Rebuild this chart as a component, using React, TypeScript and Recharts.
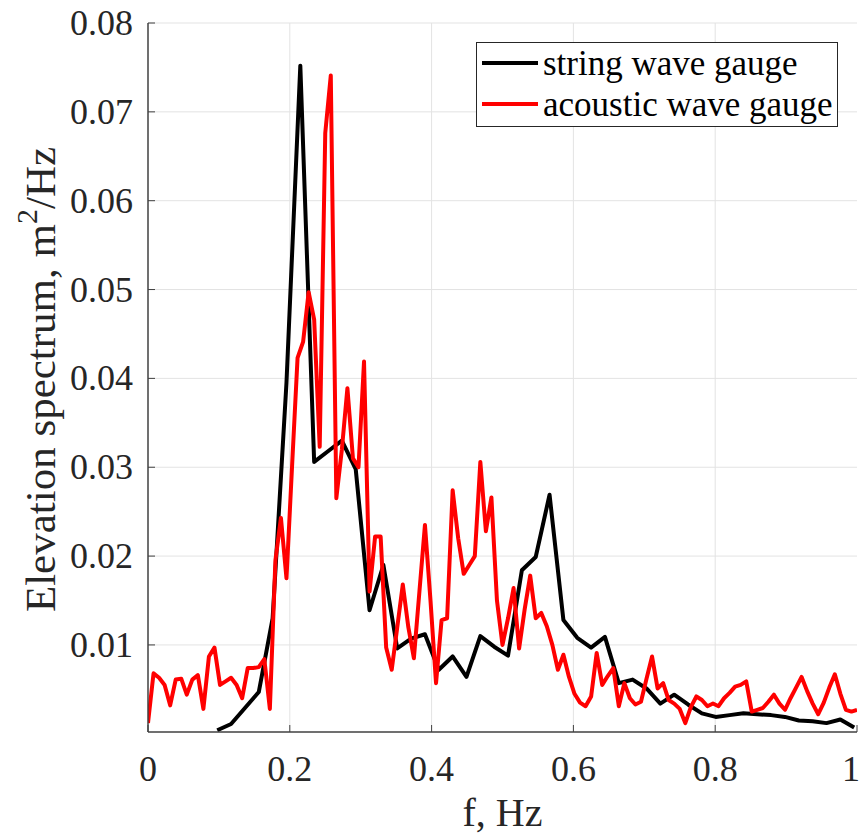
import React from "react";
import { LineChart, Line, XAxis, YAxis, CartesianGrid } from "recharts";

const FONT = '"Liberation Serif", "Times New Roman", serif';
const TEXT = "#262626";
const AXIS = "#404040";

const X_TICKS = [0, 0.2, 0.4, 0.6, 0.8, 1];
const X_TICK_LABELS = ["0", "0.2", "0.4", "0.6", "0.8", "1"];
const Y_TICKS = [0.01, 0.02, 0.03, 0.04, 0.05, 0.06, 0.07, 0.08];

// string gauge: sampled every 0.01953 Hz starting at bin 5
const STRING_DF = 0.01953;
const STRING_FIRST_BIN = 5;
const stringValues = [
  0.0004, 0.0011, 0.0029, 0.0047, 0.013, 0.0395, 0.0752, 0.0306, 0.0318,
  0.033, 0.0298, 0.0139, 0.019, 0.0096, 0.0107, 0.0112, 0.0072, 0.0087,
  0.0064, 0.011, 0.0098, 0.0088, 0.0184, 0.0199, 0.0269, 0.0128, 0.0108,
  0.0097, 0.0109, 0.0057, 0.0061, 0.0051, 0.0034, 0.0044, 0.0033, 0.0023,
  0.0019, 0.0021, 0.0023, 0.0022, 0.0021, 0.0019, 0.0015, 0.0014, 0.0012,
  0.0016, 0.0007,
];

// acoustic gauge: sampled every 1/128 Hz from 0 to 1
const ACOUSTIC_DF = 1 / 128;
const acousticValues = [
  0.0012, 0.0068, 0.0063, 0.0055, 0.0032, 0.0061, 0.0062, 0.0044, 0.0061,
  0.0066, 0.0028, 0.0087, 0.0097, 0.0055, 0.0059, 0.0063, 0.0055, 0.004,
  0.0074, 0.0074, 0.0075, 0.0084, 0.0028, 0.0195, 0.0243, 0.0175, 0.03,
  0.0423, 0.0441, 0.0497, 0.0466, 0.0323, 0.0676, 0.0741, 0.0265, 0.032,
  0.0389, 0.031, 0.03, 0.0419, 0.016, 0.0222, 0.0222, 0.0097, 0.0072, 0.012,
  0.0168, 0.012, 0.0085, 0.016, 0.0235, 0.015, 0.0057, 0.0128, 0.013,
  0.0274, 0.022, 0.018, 0.019, 0.02, 0.0306, 0.0228, 0.0266, 0.015, 0.01,
  0.013, 0.0164, 0.0096, 0.014, 0.0178, 0.013, 0.0136, 0.0121, 0.01, 0.0072,
  0.0089, 0.0064, 0.0045, 0.0035, 0.0031, 0.0042, 0.0091, 0.0055, 0.0065,
  0.0074, 0.0031, 0.0057, 0.004, 0.0033, 0.0036, 0.0062, 0.0087, 0.0051,
  0.0057, 0.0038, 0.0034, 0.0028, 0.0012, 0.003, 0.0042, 0.0038, 0.0031,
  0.0034, 0.0031, 0.004, 0.0046, 0.0053, 0.0055, 0.0059, 0.0025, 0.0027,
  0.0029, 0.0036, 0.0044, 0.0034, 0.0027, 0.004, 0.0052, 0.0064, 0.0048,
  0.0034, 0.0022, 0.0035, 0.0052, 0.0067, 0.0045, 0.0027, 0.0025, 0.0027,
];

const stringData = stringValues.map((v, i) => ({
  f: (i + STRING_FIRST_BIN) * STRING_DF,
  v,
}));
const acousticData = acousticValues.map((v, i) => ({ f: i * ACOUSTIC_DF, v }));

const BottomTick = ({ x, y, payload, index }: any) => {
  // keep the last label inside the picture
  const tx = payload.value === 1 ? x - 6 : x;
  return (
    <g>
      <line x1={x} x2={x} y1={y - 7} y2={y} stroke={AXIS} strokeWidth={1} />
      <text
        x={tx}
        y={y + 49}
        textAnchor="middle"
        fontFamily={FONT}
        fontSize={36}
        fill={TEXT}
      >
        {X_TICK_LABELS[index] ?? payload.value}
      </text>
    </g>
  );
};

const TopTick = ({ x, y }: any) => (
  <line x1={x} x2={x} y1={y} y2={y + 7} stroke={AXIS} strokeWidth={1} />
);

const LeftTick = ({ x, y, payload }: any) => (
  <g>
    <line x1={x} x2={x + 7} y1={y} y2={y} stroke={AXIS} strokeWidth={1} />
    <text
      x={x - 15}
      y={y + 12}
      textAnchor="end"
      fontFamily={FONT}
      fontSize={36}
      fill={TEXT}
    >
      {payload.value.toFixed(2)}
    </text>
  </g>
);

const RightTick = ({ x, y }: any) => (
  <line x1={x - 7} x2={x} y1={y} y2={y} stroke={AXIS} strokeWidth={1} />
);

const LegendBox = () => (
  <svg
    width={362}
    height={86}
    style={{ position: "absolute", left: 476, top: 42, display: "block" }}
  >
    <rect x={0.5} y={0.5} width={361} height={84} fill="#fff" stroke="#262626" />
    <line x1={6} x2={62} y1={21} y2={21} stroke="#000" strokeWidth={4} />
    <line x1={6} x2={62} y1={62} y2={62} stroke="#ff0000" strokeWidth={4} />
    <text x={67} y={33} fontFamily={FONT} fontSize={35} fill="#000">
      string wave gauge
    </text>
    <text x={67} y={74} fontFamily={FONT} fontSize={35} fill="#000">
      acoustic wave gauge
    </text>
  </svg>
);

export default function App() {
  return (
    <div
      style={{
        position: "absolute",
        left: 0,
        top: 0,
        width: 861,
        height: 836,
        background: "#fff",
      }}
    >
      <LineChart
        width={861}
        height={836}
        margin={{ top: 23, right: 4, bottom: 0, left: 0 }}
      >
        <CartesianGrid
          stroke="#e3e3e3"
          strokeWidth={1}
          xAxisId="bottom"
          yAxisId="left"
          verticalValues={[0.2, 0.4, 0.6, 0.8]}
          horizontalValues={Y_TICKS}
        />
        <XAxis
          xAxisId="bottom"
          dataKey="f"
          type="number"
          domain={[0, 1]}
          ticks={X_TICKS}
          height={104}
          tickSize={0}
          tickMargin={0}
          tickLine={false}
          axisLine={{ stroke: AXIS, strokeWidth: 1.5 }}
          tick={<BottomTick />}
          interval={0}
          allowDataOverflow
          label={{
            value: "f, Hz",
            position: "insideBottom",
            offset: 10,
            fontFamily: FONT,
            fontSize: 40,
            fill: TEXT,
          }}
        />
        <XAxis
          xAxisId="top"
          orientation="top"
          dataKey="f"
          type="number"
          domain={[0, 1]}
          ticks={X_TICKS}
          height={0}
          tickSize={0}
          tickLine={false}
          axisLine={{ stroke: AXIS, strokeWidth: 1.5 }}
          tick={<TopTick />}
          interval={0}
          allowDataOverflow
        />
        <YAxis
          yAxisId="left"
          type="number"
          domain={[0.0002, 0.08]}
          ticks={Y_TICKS}
          width={148}
          tickSize={0}
          tickMargin={0}
          tickLine={false}
          axisLine={{ stroke: AXIS, strokeWidth: 1.5 }}
          tick={<LeftTick />}
          interval={0}
          allowDataOverflow
          label={(props: any) => {
            const vb = props.viewBox;
            const cy = vb.y + vb.height / 2 + 2;
            return (
              <text
                transform={`translate(55, ${cy}) rotate(-90)`}
                textAnchor="middle"
                fontFamily={FONT}
                fontSize={43}
                fill={TEXT}
              >
                Elevation spectrum, m
                <tspan dy={-18} fontSize={30}>
                  2
                </tspan>
                <tspan dy={18}>/Hz</tspan>
              </text>
            );
          }}
        />
        <YAxis
          yAxisId="right"
          orientation="right"
          type="number"
          domain={[0.0002, 0.08]}
          ticks={Y_TICKS}
          width={0}
          tickSize={0}
          tickLine={false}
          axisLine={{ stroke: AXIS, strokeWidth: 1.5 }}
          tick={<RightTick />}
          interval={0}
          allowDataOverflow
        />
        <Line
          data={stringData}
          xAxisId="bottom"
          yAxisId="left"
          dataKey="v"
          name="string wave gauge"
          stroke="#000000"
          strokeWidth={4}
          strokeLinejoin="round"
          dot={false}
          activeDot={false}
          isAnimationActive={false}
        />
        <Line
          data={acousticData}
          xAxisId="bottom"
          yAxisId="left"
          dataKey="v"
          name="acoustic wave gauge"
          stroke="#ff0000"
          strokeWidth={4}
          strokeLinejoin="round"
          dot={false}
          activeDot={false}
          isAnimationActive={false}
        />
      </LineChart>
      <LegendBox />
    </div>
  );
}
